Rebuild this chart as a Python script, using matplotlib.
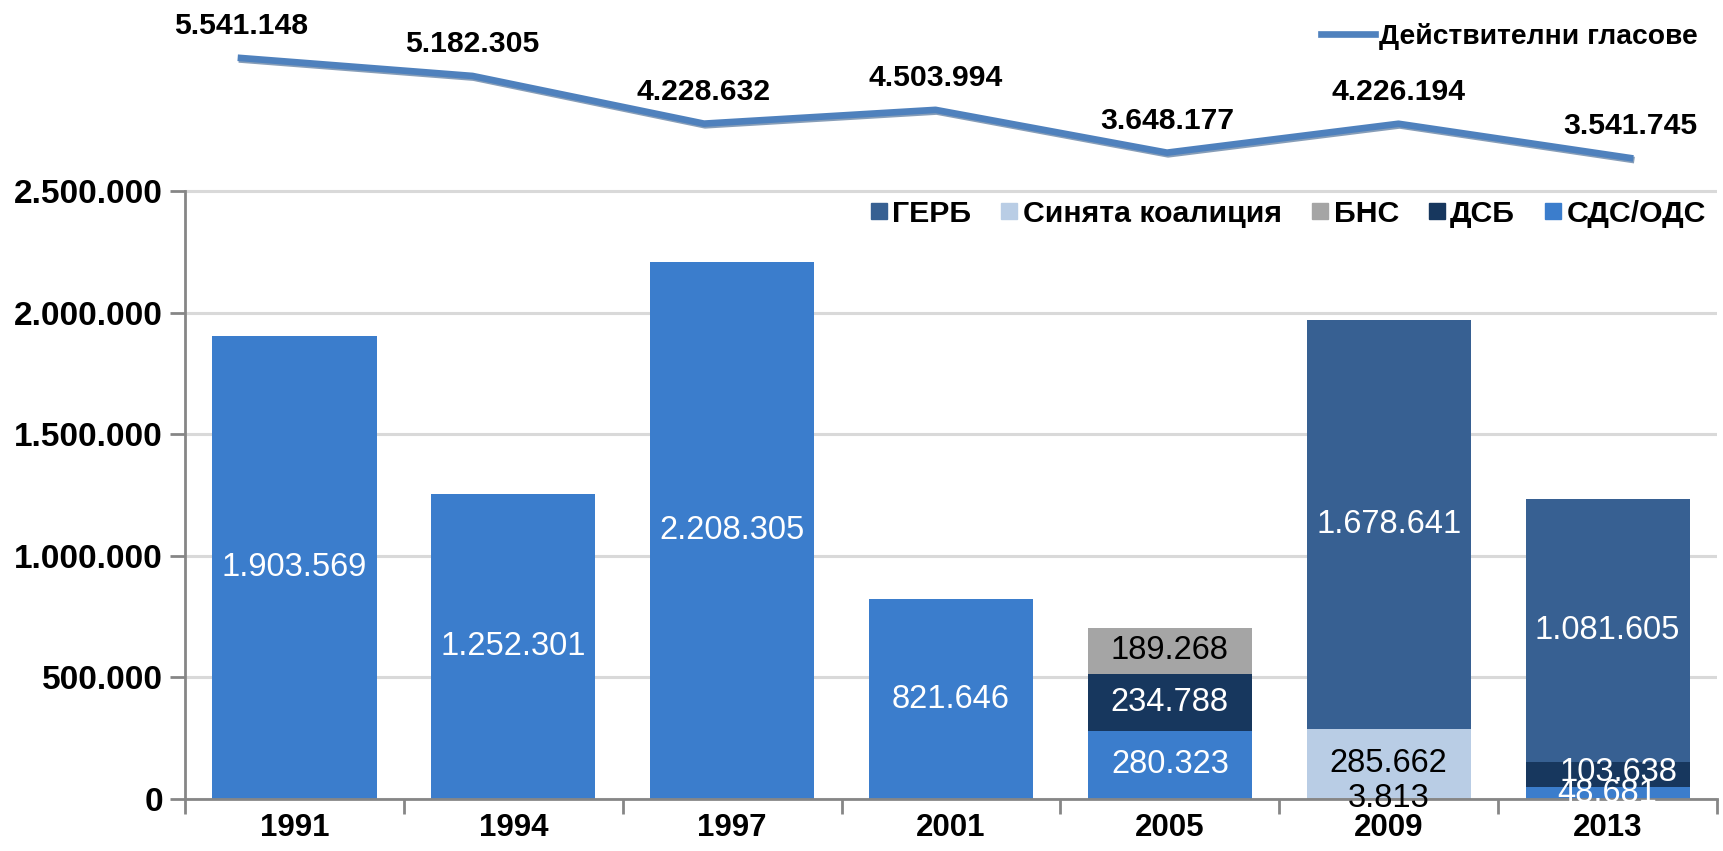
import matplotlib
matplotlib.use('Agg')
import matplotlib.pyplot as plt
from matplotlib.lines import Line2D
import matplotlib.patheffects as pe

plt.rcParams['font.family'] = ['Liberation Sans', 'DejaVu Sans']

# data
years = ['1991', '1994', '1997', '2001', '2005', '2009', '2013']
sds_ods = [1903569, 1252301, 2208305, 821646, 280323, 0, 48681]
dsb = [0, 0, 0, 0, 234788, 0, 103638]
bns = [0, 0, 0, 0, 189268, 3813, 0]
blue_coalition = [0, 0, 0, 0, 0, 285662, 0]
gerb = [0, 0, 0, 0, 0, 1678641, 1081605]
valid_votes = [5541148, 5182305, 4228632, 4503994, 3648177, 4226194, 3541745]

y_ticks = [0, 500000, 1000000, 1500000, 2000000, 2500000]


def fmt(v):
    return f"{v:,}".replace(',', '.')


fig = plt.figure(figsize=(17.23, 8.51), dpi=100)
W, H = 1723, 851
rect = [185 / W, 1 - 799 / H, (1717 - 185) / W, 799 / H]
ax = fig.add_axes(rect)

# stacked bars, bottom to top
stack = [
    ('СДС/ОДС', sds_ods, '#3B7DCC', 'white'),
    ('ДСБ', dsb, '#17375E', 'white'),
    ('БНС', bns, '#A5A5A5', 'black'),
    ('Синята коалиция', blue_coalition, '#B9CDE5', 'black'),
    ('ГЕРБ', gerb, '#376092', 'white'),
]
x = list(range(len(years)))
bottom = [0] * len(years)
for name, vals, col, tcol in stack:
    ax.bar(x, vals, 0.75, bottom=bottom, color=col, zorder=2)
    for i, v in enumerate(vals):
        if v > 0:
            # small 2013 ДСБ label sits a bit to the right, like the original
            dx = 0.05 if (name == 'ДСБ' and i == 6) else 0
            dy = 8000 if (name == 'ДСБ' and i == 6) else 0
            ax.text(i + dx, bottom[i] + v / 2 + dy, fmt(v), ha='center', va='center',
                    color=tcol, fontsize=23.5, zorder=4)
    bottom = [b + v for b, v in zip(bottom, vals)]

ax.set_xlim(-0.5, 6.5)
ax.set_ylim(0, 2500000 * 799 / 608)
ax.set_yticks(y_ticks)
ax.set_yticklabels([fmt(t) for t in y_ticks], fontsize=24, fontweight='bold')
ax.yaxis.grid(True, color='#D9D9D9', lw=2.2, zorder=0)
ax.set_axisbelow(True)

ax.set_xticks([i - 0.5 for i in range(len(years) + 1)])
ax.set_xticklabels([])
ax.set_xticks(x, minor=True)
ax.set_xticklabels(years, minor=True, fontsize=22.5, fontweight='bold')
ax.tick_params(axis='x', which='major', length=11, width=2, color='#868686', direction='out')
ax.tick_params(axis='x', which='minor', length=0, pad=10)
ax.tick_params(axis='y', length=11, width=2, color='#868686', pad=5)

for s in ['top', 'right']:
    ax.spines[s].set_visible(False)
for s in ['left', 'bottom']:
    ax.spines[s].set_color('#868686')
    ax.spines[s].set_linewidth(2)
ax.spines['left'].set_bounds(0, 2500000)

# line of valid votes on its own hidden axes
ax2 = fig.add_axes(rect, frameon=False)
ax2.set_xlim((185 - 241) / 231.5, (1717 - 241) / 231.5)
ax2.set_ylim(5541148 - 741 / 5e-5, 5541148 + 58 / 5e-5)
ax2.axis('off')
ax2.plot(x, valid_votes, color='#4F81BD', lw=4.8, solid_joinstyle='round',
         path_effects=[pe.SimpleLineShadow(offset=(0.8, -1.2), shadow_color='#385D8A', alpha=0.6),
                       pe.Normal()])
for i, v in enumerate(valid_votes):
    ax2.annotate(fmt(v), (i, v), xytext=(0, 23), textcoords='offset points',
                 ha='center', va='center', fontsize=21.7, fontweight='bold')

# legends
bar_handles = [Line2D([], [], ls='', marker='s', markersize=12, color=c)
               for c in ['#376092', '#B9CDE5', '#A5A5A5', '#17375E', '#3B7DCC']]
bar_names = ['ГЕРБ', 'Синята коалиция', 'БНС', 'ДСБ', 'СДС/ОДС']
fig.legend(bar_handles, bar_names, loc='center right', bbox_to_anchor=(1.006, 1 - 214 / H),
           ncol=5, frameon=False, handlelength=0.6, handletextpad=0.15, columnspacing=0.95,
           prop={'size': 21.8, 'weight': 'bold'})

line_handle = [Line2D([], [], color='#4F81BD', lw=4.8)]
fig.legend(line_handle, ['Действителни гласове'], loc='center right',
           bbox_to_anchor=(1.0, 1 - 36 / H), frameon=False, handlelength=1.9,
           handletextpad=0.15, prop={'size': 20.3, 'weight': 'bold'})

fig.savefig('out.png', dpi=100)
